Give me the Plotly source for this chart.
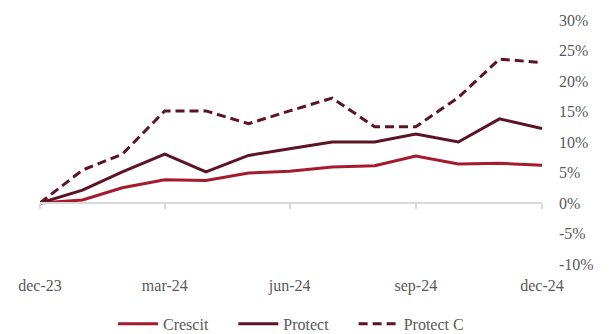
import plotly.graph_objects as go

# Monthly cumulative returns, dec-23 to dec-24 (in %)
months = ["2023-12-31", "2024-01-31", "2024-02-29", "2024-03-31", "2024-04-30",
          "2024-05-31", "2024-06-30", "2024-07-31", "2024-08-31", "2024-09-30",
          "2024-10-31", "2024-11-30", "2024-12-31"]
crescit = [0.0, 0.5, 2.5, 3.8, 3.7, 4.9, 5.2, 5.9, 6.1, 7.7, 6.4, 6.5, 6.2]
protect = [0.0, 2.1, 5.1, 8.0, 5.1, 7.8, 8.9, 10.0, 10.0, 11.3, 10.0, 13.8, 12.2]
protect_c = [0.0, 5.4, 8.0, 15.1, 15.1, 13.0, 15.1, 17.2, 12.5, 12.5, 17.3, 23.6, 23.0]

tick_dates = ["2023-12-31", "2024-03-31", "2024-06-30", "2024-09-30", "2024-12-31"]
tick_labels = ["dec-23", "mar-24", "jun-24", "sep-24", "dec-24"]
y_ticks = [-10, -5, 0, 5, 10, 15, 20, 25, 30]
y_labels = [f"{v}%" for v in y_ticks]

CRIMSON = "#A6192E"
MAROON = "#5B1423"
GREY = "#595959"
FONT = "Liberation Serif"
PAD = "\u00a0" * 5  # extra spacing between legend entries

fig = go.Figure()
fig.add_trace(go.Scatter(x=months, y=crescit, name="Crescit" + PAD, mode="lines",
                         line=dict(color=CRIMSON, width=3)))
fig.add_trace(go.Scatter(x=months, y=protect, name="Protect" + PAD, mode="lines",
                         line=dict(color=MAROON, width=3)))
fig.add_trace(go.Scatter(x=months, y=protect_c, name="Protect C", mode="lines",
                         line=dict(color=MAROON, width=3, dash="9px,5px")))
# invisible trace to activate the zero-crossing axis
fig.add_trace(go.Scatter(x=months, y=crescit, xaxis="x2", mode="lines",
                         line=dict(width=0), showlegend=False, hoverinfo="skip",
                         opacity=0))

xrange = ["2023-12-31", "2024-12-31"]
fig.update_layout(
    width=610, height=334,
    margin=dict(l=40, r=68, t=20, b=70, autoexpand=False),
    paper_bgcolor="white", plot_bgcolor="white",
    font=dict(family=FONT, size=16, color=GREY),
    xaxis=dict(range=xrange, tickvals=tick_dates, ticktext=tick_labels,
               showgrid=False, zeroline=False, showline=False, ticks="",
               ticklabelstandoff=10, tickfont=dict(size=16, color=GREY)),
    xaxis2=dict(range=xrange, overlaying="x", anchor="free", position=0.25,
                side="bottom", tickvals=tick_dates, showticklabels=False,
                showgrid=False, zeroline=False, showline=True,
                linecolor="#D9D9D9", linewidth=1.5,
                ticks="outside", ticklen=5, tickcolor="#D9D9D9", tickwidth=1.5),
    yaxis=dict(range=[-10, 30], side="right", tickvals=y_ticks, ticktext=y_labels,
               showgrid=False, zeroline=False, showline=False, ticks="",
               ticklabelstandoff=16, tickfont=dict(size=16, color=GREY)),
    legend=dict(orientation="h", x=0.5, xanchor="center", y=-0.245, yanchor="middle",
                font=dict(size=16, color=GREY), itemwidth=40,
                traceorder="normal"),
    showlegend=True,
)

fig.write_html("out.html")
